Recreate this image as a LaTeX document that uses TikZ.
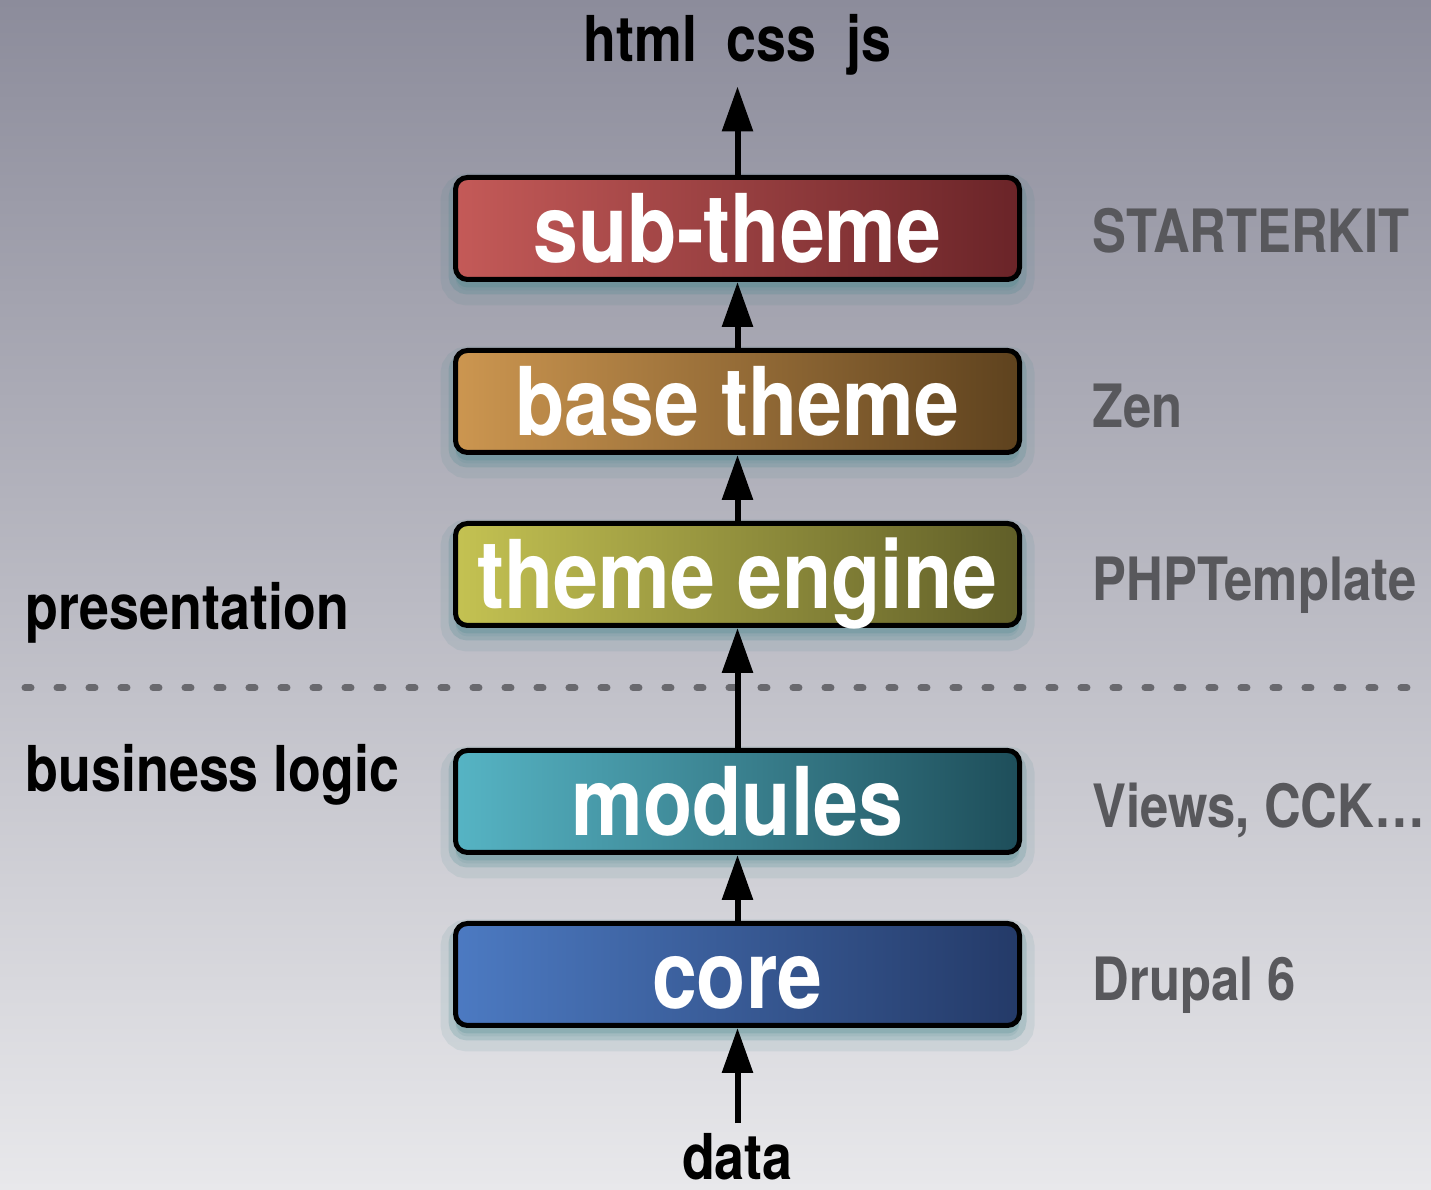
\documentclass[tikz,border=0pt]{standalone}
\usepackage{tikz}
\usepackage{xcolor}
\usepackage{fontspec}
\newfontfamily\condfont[FakeStretch = 0.85]{TeX Gyre Heros}
\usetikzlibrary{positioning, arrows.meta}

\definecolor{bgtop}{RGB}{140,140,155}
\definecolor{bgbottom}{RGB}{232,232,235}
\definecolor{glowcolor}{RGB}{60,130,135}
\definecolor{sidegray}{RGB}{88,88,92}
\definecolor{dashgray}{RGB}{105,105,110}
\definecolor{subA}{RGB}{196,90,88}
\definecolor{subB}{RGB}{106,36,40}
\definecolor{baseA}{RGB}{204,150,80}
\definecolor{baseB}{RGB}{94,66,30}
\definecolor{engA}{RGB}{196,194,82}
\definecolor{engB}{RGB}{96,94,40}
\definecolor{modA}{RGB}{86,180,196}
\definecolor{modB}{RGB}{30,78,90}
\definecolor{coreA}{RGB}{76,122,194}
\definecolor{coreB}{RGB}{36,58,104}

\begin{document}
\begin{tikzpicture}[
  layer/.style = {draw = black, line width = 0.05cm, rounded corners = 0.12cm,
    minimum width = 5.64cm, minimum height = 1.02cm, inner sep = 0pt,
    text height = 0.76cm, text depth = 0.08cm, text = white,
    font = \condfont\bfseries\fontsize{27}{30}\selectfont,
    preaction = {fill = glowcolor, draw = glowcolor, opacity = 0.1, line width = 0.3cm,
      transform canvas = {yshift = -0.11cm}},
    preaction = {fill = glowcolor, draw = glowcolor, opacity = 0.2, line width = 0.14cm,
      transform canvas = {yshift = -0.08cm}}},
  tag/.style = {inner sep = 0.1cm, font = \condfont\bfseries\fontsize{18}{20}\selectfont},
  sidenote/.style = {tag, text = sidegray, font = \condfont\bfseries\fontsize{17}{20}\selectfont},
  flow/.style = {draw = black, line width = 0.06cm, -{Triangle[length = 0.45cm, width = 0.3cm]}},
  divider/.style = {draw = dashgray, line width = 0.07cm, line cap = round,
    dash pattern = on 0.06cm off 0.26cm}
]

\useasboundingbox (0, 0) rectangle (14.31, 11.9);
\shade [top color = bgtop, bottom color = bgbottom] (0, 0) rectangle (14.31, 11.9);

\coordinate (dl) at (0.25, 5.02);
\coordinate (dr) at (14.31, 5.02);
\path [divider] (dl) -- (dr);

\node [layer, left color = subA, right color = subB] (sub) at (7.375, 9.615) {sub-theme};
\node [layer, left color = baseA, right color = baseB, below = 0.66cm of sub] (base) {base theme};
\node [layer, left color = engA, right color = engB, below = 0.66cm of base] (engine) {theme engine};
\node [layer, left color = modA, right color = modB, below = 1.2cm of engine] (modules) {modules};
\node [layer, left color = coreA, right color = coreB, below = 0.66cm of modules] (core) {core};

\node [tag, anchor = base] (out) at (7.375, 11.28) {html~~css~~js};
\node [tag, anchor = base] (data) at (7.375, 0.1) {data};

\node [tag, anchor = base west] (pres) at (0.15, 5.6) {presentation};
\node [tag, anchor = base west] (logic) at (0.15, 3.98) {business logic};

\node [sidenote, anchor = base west] (kit) at ([xshift = 0.6cm, yshift = -0.24cm] sub.east) {STARTERKIT};
\node [sidenote, anchor = base west] (zen) at ([xshift = 0.6cm, yshift = -0.26cm] base.east) {Zen};
\node [sidenote, anchor = base west] (php) at ([xshift = 0.6cm, yshift = -0.26cm] engine.east) {PHPTemplate};
\node [sidenote, anchor = base west] (views) at ([xshift = 0.6cm, yshift = -0.26cm] modules.east) {Views, CCK…};
\node [sidenote, anchor = base west] (drupal) at ([xshift = 0.6cm, yshift = -0.26cm] core.east) {Drupal 6};

\path [flow] (sub) -- (out);
\path [flow] (base) -- (sub);
\path [flow] (engine) -- (base);
\path [flow] (modules) -- (engine);
\path [flow] (core) -- (modules);
\path [flow] (data) -- (core);

\end{tikzpicture}
\end{document}
